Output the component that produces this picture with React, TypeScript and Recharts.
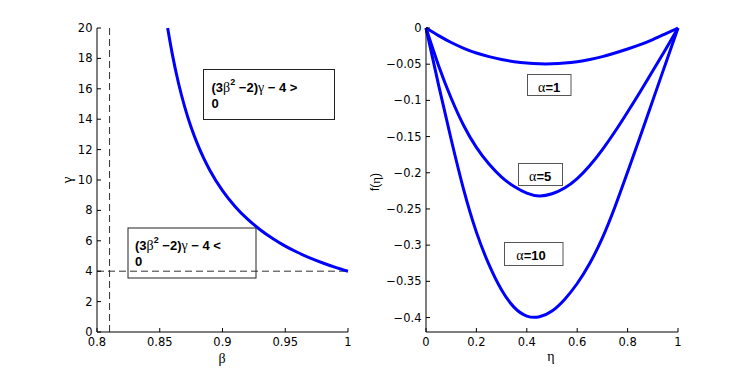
import React from 'react';
import { LineChart, Line, XAxis, YAxis, ReferenceLine } from 'recharts';

// Left panel data (beta, gamma)
const betaValues = [0.8563, 0.86, 0.865, 0.87, 0.875, 0.88, 0.885, 0.89, 0.9, 0.91, 0.92, 0.93, 0.94, 0.95, 0.96, 0.97, 0.98, 0.99, 1.0];
const gammaValues = [20.0, 18.28, 16.35, 14.78, 13.47, 12.38, 11.44, 10.63, 9.3, 8.26, 7.42, 6.73, 6.15, 5.65, 5.23, 4.86, 4.54, 4.25, 4.0];
const betaTicks = [0.8, 0.85, 0.9, 0.95, 1];
const gammaTicks = [0, 2, 4, 6, 8, 10, 12, 14, 16, 18, 20];
const dashedBeta = 0.81;
const dashedGamma = 4;

// Right panel data (eta, f)
const etaValues = [0, 0.05, 0.1, 0.15, 0.2, 0.25, 0.3, 0.35, 0.4, 0.45, 0.5, 0.55, 0.6, 0.65, 0.7, 0.75, 0.8, 0.85, 0.9, 0.95, 1];
const fAlpha1 = [0, -0.0105, -0.02, -0.028, -0.0345, -0.0395, -0.0435, -0.0465, -0.0485, -0.0495, -0.0495, -0.0485, -0.0465, -0.0435, -0.0395, -0.0345, -0.029, -0.023, -0.016, -0.008, 0];
const fAlpha5 = [0, -0.052, -0.097, -0.135, -0.165, -0.188, -0.206, -0.219, -0.228, -0.232, -0.229, -0.221, -0.208, -0.19, -0.168, -0.143, -0.116, -0.088, -0.059, -0.03, 0];
const fAlpha10 = [0, -0.079, -0.154, -0.224, -0.282, -0.327, -0.362, -0.386, -0.398, -0.399, -0.391, -0.375, -0.353, -0.325, -0.29, -0.247, -0.199, -0.15, -0.1, -0.05, 0];
const etaTicks = [0, 0.2, 0.4, 0.6, 0.8, 1];
const fTicks = [0, -0.05, -0.1, -0.15, -0.2, -0.25, -0.3, -0.35, -0.4];

const leftData = betaValues.map((b, i) => ({ beta: b, gamma: gammaValues[i] }));
const rightData = etaValues.map((e, i) => ({ eta: e, a1: fAlpha1[i], a5: fAlpha5[i], a10: fAlpha10[i] }));

const tickStyle = { fontSize: 11.5, fill: '#000', fontFamily: '"DejaVu Sans", sans-serif' };
const fmtNum = (v: number) => (v < 0 ? '\u2212' + String(Math.abs(v)) : String(v));
const blank = () => '';
const BLUE = '#0000ff';
const sans = '"Liberation Sans", Arial, sans-serif';
const serif = '"Liberation Serif", "DejaVu Serif", serif';

export default function App() {
  return (
    <div style={{ position: 'absolute', left: 0, top: 0, width: 747, height: 374, background: '#fff' }}>
      <div style={{ position: 'absolute', left: 0, top: 0 }}>
        <LineChart width={374} height={374} data={leftData} margin={{ top: 28, right: 26, bottom: 12, left: 57 }}>
          <XAxis dataKey="beta" type="number" domain={[0.8, 1]} ticks={betaTicks} tickFormatter={fmtNum}
            stroke="#000" tick={tickStyle} tickSize={-4} tickMargin={10} height={30} interval={0} />
          <XAxis xAxisId="top" orientation="top" dataKey="beta" type="number" domain={[0.8, 1]} ticks={betaTicks}
            tickFormatter={blank} stroke="#000" tickSize={-4} height={0} interval={0} />
          <YAxis dataKey="gamma" type="number" domain={[0, 20]} ticks={gammaTicks} tickFormatter={fmtNum}
            stroke="#000" tick={tickStyle} tickSize={-4} tickMargin={8.5} width={40} interval={0} />
          <YAxis yAxisId="right" orientation="right" type="number" domain={[0, 20]} ticks={gammaTicks}
            tickFormatter={blank} stroke="#000" tickSize={-4} width={0} interval={0} />
          <ReferenceLine x={dashedBeta} stroke="#333" strokeDasharray="7 4" strokeWidth={1} />
          <ReferenceLine y={dashedGamma} stroke="#333" strokeDasharray="7 4" strokeWidth={1} />
          <Line dataKey="gamma" type="monotone" stroke={BLUE} strokeWidth={3} dot={false} isAnimationActive={false} />
        </LineChart>
      </div>
      <div style={{ position: 'absolute', left: 374, top: 0 }}>
        <LineChart width={373} height={374} data={rightData} margin={{ top: 28, right: 69, bottom: 12, left: 12 }}>
          <XAxis dataKey="eta" type="number" domain={[0, 1]} ticks={etaTicks} tickFormatter={fmtNum}
            stroke="#000" tick={tickStyle} tickSize={-4} tickMargin={10} height={30} interval={0} />
          <YAxis type="number" domain={[-0.42, 0]} ticks={fTicks} tickFormatter={fmtNum}
            stroke="#000" tick={tickStyle} tickSize={-4} tickMargin={8.5} width={40} interval={0} />
          <Line dataKey="a1" type="natural" stroke={BLUE} strokeWidth={3} dot={false} isAnimationActive={false} />
          <Line dataKey="a5" type="natural" stroke={BLUE} strokeWidth={3} dot={false} isAnimationActive={false} />
          <Line dataKey="a10" type="natural" stroke={BLUE} strokeWidth={3} dot={false} isAnimationActive={false} />
        </LineChart>
      </div>
      <svg width={747} height={374} style={{ position: 'absolute', left: 0, top: 0, pointerEvents: 'none' }}>
        {/* axis titles */}
        <text x={222} y={362.5} textAnchor="middle" fontSize={14} fontFamily={serif}>β</text>
        <text x={0} y={0} textAnchor="middle" dominantBaseline="central" fontSize={15} fontFamily={serif}
          transform="translate(66.5,180) rotate(-90)">γ</text>
        <text x={551} y={361} textAnchor="middle" fontSize={14} fontFamily={serif}>η</text>
        <text x={0} y={0} textAnchor="middle" dominantBaseline="central" fontSize={12} fontFamily={sans}
          transform="translate(375,182) rotate(-90)">f(<tspan fontFamily={serif} fontSize={13}>η</tspan>)</text>

        {/* box 1 */}
        <rect x={203.5} y={69.5} width={131} height={50} fill="none" stroke="#222" strokeWidth={1} />
        <text x={211.5} y={92.3} fontSize={13} fontWeight="bold" fontFamily={sans}>
          (3<tspan fontFamily={serif} fontWeight="normal" fontSize={14}>β</tspan><tspan dy={-7} fontSize={9}>2</tspan><tspan dy={7}> −2)</tspan><tspan fontFamily={serif} fontWeight="normal" fontSize={14}>γ</tspan> − 4 &gt;
        </text>
        <text x={211.5} y={107.7} fontSize={13} fontWeight="bold" fontFamily={sans}>0</text>

        {/* box 2 */}
        <rect x={128} y={228} width={128} height={50} fill="none" stroke="#222" strokeWidth={1} />
        <text x={135} y={250.3} fontSize={13} fontWeight="bold" fontFamily={sans}>
          (3<tspan fontFamily={serif} fontWeight="normal" fontSize={14}>β</tspan><tspan dy={-7} fontSize={9}>2</tspan><tspan dy={7}> −2)</tspan><tspan fontFamily={serif} fontWeight="normal" fontSize={14}>γ</tspan> − 4 &lt;
        </text>
        <text x={135} y={266} fontSize={13} fontWeight="bold" fontFamily={sans}>0</text>

        {/* alpha boxes */}
        <rect x={527.5} y={74.5} width={43.5} height={21} fill="none" stroke="#555" strokeWidth={1} />
        <text x={549.2} y={91.7} textAnchor="middle" fontSize={13} fontWeight="bold" fontFamily={sans}>
          <tspan fontFamily={serif} fontWeight="normal" fontSize={14}>α</tspan>=1
        </text>
        <rect x={518.5} y={163.5} width={44} height={22} fill="none" stroke="#555" strokeWidth={1} />
        <text x={540.2} y={180.5} textAnchor="middle" fontSize={13} fontWeight="bold" fontFamily={sans}>
          <tspan fontFamily={serif} fontWeight="normal" fontSize={14}>α</tspan>=5
        </text>
        <rect x={504.5} y={242.5} width={58.5} height={23} fill="none" stroke="#555" strokeWidth={1} />
        <text x={531} y={260} textAnchor="middle" fontSize={13} fontWeight="bold" fontFamily={sans}>
          <tspan fontFamily={serif} fontWeight="normal" fontSize={14}>α</tspan>=10
        </text>
      </svg>
    </div>
  );
}
